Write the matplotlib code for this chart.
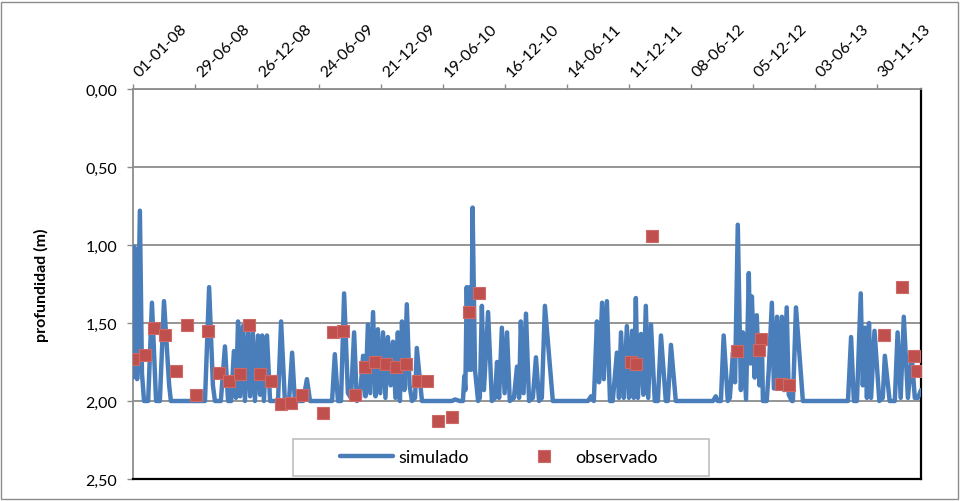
import matplotlib
matplotlib.use('Agg')
import matplotlib.pyplot as plt
import matplotlib.dates as mdates
import matplotlib.transforms as mtransforms
from matplotlib.patches import Rectangle
from matplotlib.lines import Line2D
from matplotlib.ticker import FuncFormatter
import pandas as pd

plt.rcParams['font.family'] = ['Lato', 'DejaVu Sans']

START = pd.Timestamp('2008-01-01')

# simulated depth: (days since 2008-01-01, depth m)
sim_days = [0, 2, 6, 12, 20, 26, 32, 44, 55, 67, 78, 90, 105, 110, 209, 221, 232, 238,
            255, 267, 276, 285, 293, 299, 305, 311, 319, 325, 334, 340, 348, 354, 363,
            369, 375, 380, 389, 398, 421, 430, 441, 453, 462, 470, 494, 505, 514,
            578, 586, 595, 604, 613, 624, 633, 642, 650, 659, 668, 675, 682, 689, 697,
            704, 711, 718, 726, 733, 740, 748, 755, 762, 769, 775, 781, 788, 795, 803,
            810, 819, 824, 839,
            926, 935, 949, 958, 962, 965, 969, 974, 978, 982, 986, 993, 1002, 1007, 1013,
            1019, 1031, 1042, 1051, 1057, 1063, 1071, 1079, 1086, 1094, 1106, 1115, 1121,
            1126, 1134, 1141, 1150, 1161, 1170, 1179, 1187, 1196, 1219,
            1321, 1330, 1338, 1347, 1353, 1362, 1367, 1376, 1385, 1393, 1405, 1411, 1417,
            1425, 1434, 1440, 1449, 1454, 1460, 1466, 1475, 1482, 1489, 1496, 1504, 1515,
            1524, 1533, 1547, 1553, 1562, 1576,
            1684, 1692, 1698, 1707, 1715, 1727, 1733, 1742, 1748, 1756, 1765, 1771, 1780,
            1788, 1793, 1797, 1805, 1811, 1819, 1826, 1829, 1840, 1846, 1855, 1861, 1870,
            1875, 1884, 1890, 1898, 1904, 1913, 1916, 1925, 1945,
            2076, 2085, 2093, 2102, 2113, 2119, 2125, 2131, 2137, 2143, 2153, 2167, 2177,
            2183, 2197, 2212, 2220, 2229, 2238, 2250, 2261, 2270, 2279, 2288]
sim_depth = [1.85, 1.01, 1.02, 1.86, 0.78, 1.82, 2.00, 2.00, 1.37, 2.00, 2.00, 1.36, 1.90, 2.00, 2.00, 1.27, 1.90, 2.00,
             2.00, 1.65, 2.00, 2.00, 1.68, 1.98, 1.49, 1.97, 1.52, 2.00, 1.53, 1.97, 1.56, 2.00, 1.58,
             1.96, 1.58, 2.00, 1.58, 2.00, 2.00, 1.49, 2.00, 2.00, 1.69, 2.00, 2.00, 1.86, 2.00,
             2.00, 1.70, 2.00, 2.00, 1.31, 1.95, 1.98, 1.56, 2.00, 1.98, 1.71, 1.97, 1.51, 1.95, 1.43,
             1.97, 1.54, 1.95, 1.56, 1.98, 1.59, 1.90, 1.62, 1.98, 1.56, 2.00, 1.49, 1.93, 1.38, 1.90,
             2.00, 1.98, 1.66, 2.00,
             2.00, 1.99, 2.00, 2.00, 1.84, 1.93, 1.27, 1.80, 1.27, 1.80, 0.76, 1.80, 2.00, 1.98, 1.39,
             1.93, 1.43, 2.00, 1.98, 1.75, 1.98, 1.53, 1.95, 1.56, 2.00, 1.98, 1.78, 1.98,
             1.49, 1.95, 1.44, 2.00, 1.98, 1.72, 2.00, 1.98, 1.39, 2.00,
             2.00, 1.97, 2.00, 1.49, 1.88, 1.37, 1.86, 1.36, 2.00, 2.00, 1.69, 1.98, 1.56,
             1.98, 1.52, 1.98, 1.55, 1.98, 1.34, 1.98, 1.57, 1.96, 1.39, 1.98, 1.51, 2.00,
             2.00, 1.58, 2.00, 2.00, 1.64, 2.00,
             2.00, 1.97, 2.00, 2.00, 1.58, 2.00, 1.98, 1.69, 1.88, 0.87, 1.93, 1.56, 1.99,
             1.18, 1.76, 1.33, 1.85, 1.45, 1.90, 1.60, 2.00, 2.00, 1.80, 1.37, 1.92, 1.46,
             1.90, 1.46, 1.93, 1.40, 1.96, 2.00, 2.00, 1.40, 2.00,
             2.00, 1.59, 2.00, 2.00, 1.31, 1.90, 1.53, 1.98, 1.50, 1.98, 1.55, 2.00, 1.98,
             1.71, 2.00, 2.00, 1.56, 1.98, 1.46, 1.98, 1.71, 1.98, 1.98, 1.93]

# observed depth
obs_days = [0, 35, 61, 93, 125, 157, 183, 218, 250, 279, 311, 337, 369, 401, 430, 459,
            491, 552, 581, 610, 645, 674, 703, 734, 764, 793, 827, 854, 885, 926, 975,
            1004, 1446, 1460, 1507, 1753, 1823, 1817, 1881, 1904, 2180, 2233, 2267, 2276]
obs_depth = [1.73, 1.705, 1.53, 1.58, 1.81, 1.51, 1.96, 1.55, 1.82, 1.87, 1.83, 1.51, 1.83,
             1.87, 2.02, 2.01, 1.96, 2.08, 1.56, 1.55, 1.96, 1.78, 1.75, 1.76, 1.78, 1.76,
             1.87, 1.87, 2.13, 2.10, 1.43, 1.31, 1.75, 1.76, 0.94, 1.68, 1.60, 1.67, 1.89,
             1.90, 1.58, 1.27, 1.71, 1.81]

tick_days = [0, 180, 360, 540, 720, 900, 1080, 1260, 1440, 1620, 1800, 1980, 2160]
end_day = 2288
y_ticks = [0.0, 0.5, 1.0, 1.5, 2.0, 2.5]
series_names = ['simulado', 'observado']

def to_dates(days):
    return [START + pd.Timedelta(days=d) for d in days]

BLUE = '#4A7EBB'
RED = '#C0504D'
GRID = '#8c8c8c'

fig = plt.figure(figsize=(9.6, 5.02), dpi=100)
ax = fig.add_axes([133 / 960, 22 / 502, 788 / 960, 390 / 502])

ax.plot(to_dates(sim_days), sim_depth, color=BLUE, lw=3.2,
        solid_joinstyle='round', solid_capstyle='round', zorder=3)
ax.plot(to_dates(obs_days), obs_depth, ls='none', marker='s', ms=8.6,
        mfc=RED, mec='#cd6a67', mew=0.8, zorder=4)

ax.set_xlim(START, START + pd.Timedelta(days=end_day))
ax.set_ylim(2.5, 0)
ax.set_yticks(y_ticks)
ax.yaxis.set_major_formatter(FuncFormatter(lambda v, p: f"{v:.2f}".replace('.', ',')))
ax.set_xticks(to_dates(tick_days))
ax.xaxis.set_major_formatter(mdates.DateFormatter('%d-%m-%y'))
ax.xaxis.tick_top()

ax.yaxis.grid(True, color=GRID, lw=1.3)
ax.set_axisbelow(True)

ax.tick_params(axis='x', direction='out', length=3.5, width=1, color=GRID,
               pad=7, labelsize=11.5)
ax.tick_params(axis='y', direction='out', length=4.5, width=1, color=GRID,
               pad=7, labelsize=11.5)
shift = mtransforms.ScaledTranslation(4 / 100, 0, fig.dpi_scale_trans)
for lbl in ax.get_xticklabels():
    lbl.set_rotation(45)
    lbl.set_ha('left')
    lbl.set_va('center')
    lbl.set_rotation_mode('anchor')
    lbl.set_transform(lbl.get_transform() + shift)

for s in ('top', 'left'):
    ax.spines[s].set_color(GRID)
    ax.spines[s].set_linewidth(1.3)
for s in ('right', 'bottom'):
    ax.spines[s].set_color('black')
    ax.spines[s].set_linewidth(1.6)

ax.set_ylabel('profundidad (m)', fontsize=11.5, fontweight='bold')
ax.yaxis.set_label_coords(-0.107, 0.5)

# legend box
ax.add_patch(Rectangle(((293 - 133) / 788, 3 / 390), 416 / 788, 37 / 390,
                       transform=ax.transAxes, facecolor='white', edgecolor='#bfbfbf',
                       lw=1.2, zorder=5, clip_on=False))
handles = [Line2D([], [], color=BLUE, lw=3.2, solid_capstyle='round'),
           Line2D([], [], ls='none', marker='s', ms=8.6, mfc=RED, mec='#cd6a67', mew=0.8)]
leg = ax.legend(handles, series_names, loc='center left',
                bbox_to_anchor=((340 - 133) / 788, 21.5 / 390),
                ncol=2, fontsize=13, frameon=False, handlelength=2.93,
                handletextpad=0.3, columnspacing=2.69, borderaxespad=0, borderpad=0)
leg.set_zorder(6)

fig.patches.append(Rectangle((1 / 960, 2 / 502), 957 / 960, 497 / 502,
                             transform=fig.transFigure, fill=False,
                             edgecolor='#8c8c8c', lw=1.0))

fig.savefig('out.png', dpi=100)
